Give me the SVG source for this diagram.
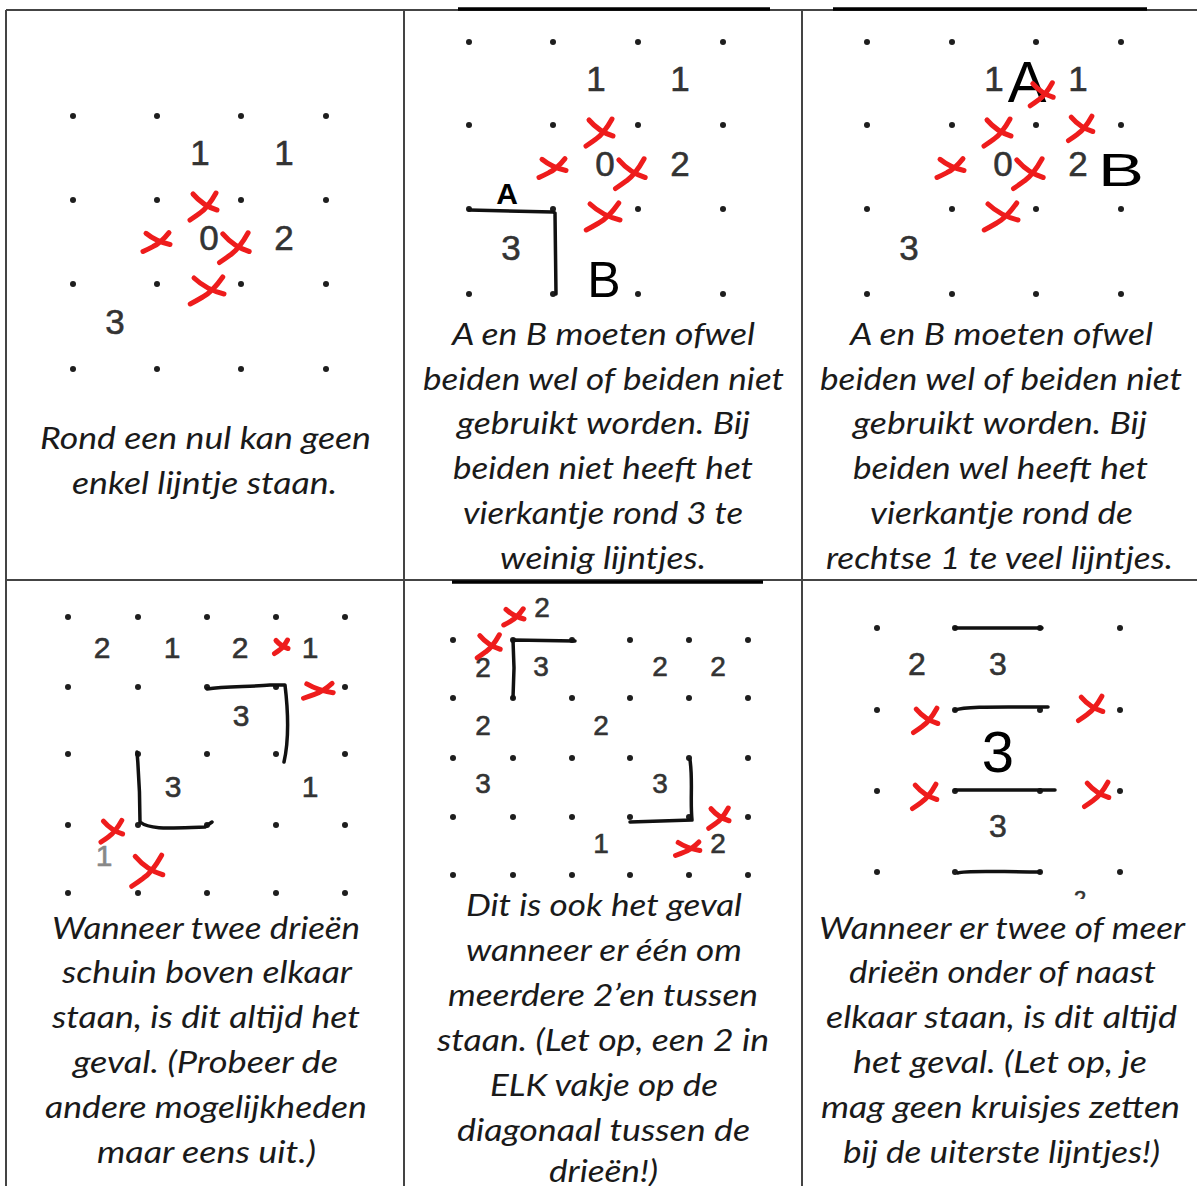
<svg xmlns="http://www.w3.org/2000/svg" xmlns:xlink="http://www.w3.org/1999/xlink" width="1197" height="1186" viewBox="0 0 1197 1186">
<style>
.cap{font-family:Lato,"Open Sans","Noto Sans",sans-serif;font-style:italic;font-size:31px;fill:#1a1a1a}
.num{font-family:"Liberation Sans",Arial,sans-serif;fill:#333;stroke:#333;stroke-width:0.6;text-anchor:middle}
.n34{font-size:35px}.n30{font-size:30px}.n28{font-size:28px}.n32{font-size:32px}
.hand{font-family:"Liberation Sans",Arial,sans-serif;fill:#000;text-anchor:middle}
.dot{fill:#1e1e1e}
.ink{fill:none;stroke:#111;stroke-width:3.5;stroke-linecap:round;stroke-linejoin:round}
.rule{stroke:#444;stroke-width:2;fill:none}
.blk{stroke:#000;stroke-width:3.5}
</style>
<defs>
<path id="x" d="M-12,-11 C-6,-4 2,2 12,5 M11,-12 C6,-3 1,4 -5,8 C-9,11 -12,13 -15,15" fill="none" stroke="#ee1c1c" stroke-width="5" stroke-linecap="round" vector-effect="non-scaling-stroke"/>
<circle id="d" r="3" class="dot"/>
<clipPath id="cl6"><rect x="1065" y="886" width="30" height="13"/></clipPath>
</defs>

<g id="table">
<line class="rule" x1="6" y1="10" x2="1197" y2="10"/>
<line class="blk" x1="458" y1="9" x2="770" y2="9"/>
<line class="blk" x1="833" y1="9" x2="1147" y2="9"/>
<line class="rule" x1="6" y1="10" x2="6" y2="1186"/>
<line class="rule" x1="404" y1="10" x2="404" y2="1186"/>
<line class="rule" x1="802" y1="10" x2="802" y2="1186"/>
<line class="rule" x1="6" y1="580" x2="1197" y2="580"/>
<line class="blk" x1="452" y1="582" x2="763" y2="582"/>
</g>

<g id="cell1">
<g>
<use href="#d" x="73" y="116"/><use href="#d" x="157" y="116"/><use href="#d" x="241" y="116"/><use href="#d" x="326" y="116"/>
<use href="#d" x="73" y="200"/><use href="#d" x="157" y="200"/><use href="#d" x="241" y="200"/><use href="#d" x="326" y="200"/>
<use href="#d" x="73" y="284"/><use href="#d" x="157" y="284"/><use href="#d" x="241" y="284"/><use href="#d" x="326" y="284"/>
<use href="#d" x="73" y="369"/><use href="#d" x="157" y="369"/><use href="#d" x="241" y="369"/><use href="#d" x="326" y="369"/>
</g>
<text class="num n34" x="200" y="165">1</text><text class="num n34" x="284" y="165">1</text>
<text class="num n34" x="209" y="250">0</text><text class="num n34" x="284" y="250">2</text>
<text class="num n34" x="115" y="334">3</text>
<use href="#x" transform="translate(205,205) scale(1)"/>
<use href="#x" transform="translate(158,241) scale(1,0.7)"/>
<use href="#x" transform="translate(236,246) scale(1.1)"/>
<use href="#x" transform="translate(209,289) scale(1.25,1)"/>
<text class="cap" x="40" y="449" textLength="331" lengthAdjust="spacingAndGlyphs">Rond een nul kan geen</text>
<text class="cap" x="72" y="494" textLength="265" lengthAdjust="spacingAndGlyphs">enkel lijntje staan.</text>
</g>

<g id="cell2">
<g>
<use href="#d" x="469" y="42"/><use href="#d" x="553" y="42"/><use href="#d" x="638" y="42"/><use href="#d" x="723" y="42"/>
<use href="#d" x="469" y="125"/><use href="#d" x="553" y="125"/><use href="#d" x="638" y="125"/><use href="#d" x="723" y="125"/>
<use href="#d" x="469" y="209"/><use href="#d" x="553" y="209"/><use href="#d" x="638" y="209"/><use href="#d" x="723" y="209"/>
<use href="#d" x="469" y="294"/><use href="#d" x="553" y="294"/><use href="#d" x="638" y="294"/><use href="#d" x="723" y="294"/>
</g>
<text class="num n34" x="596" y="91">1</text><text class="num n34" x="680" y="91">1</text>
<text class="num n34" x="605" y="176">0</text><text class="num n34" x="680" y="176">2</text>
<text class="num n34" x="511" y="260">3</text>
<use href="#x" transform="translate(601,131) scale(1)"/>
<use href="#x" transform="translate(554,167) scale(1,0.7)"/>
<use href="#x" transform="translate(632,172) scale(1.1)"/>
<use href="#x" transform="translate(605,215) scale(1.25,1)"/>
<path class="ink" d="M469,210 L553,212 L555,213 L556,294"/>
<text class="hand" x="507" y="204" font-size="30" font-weight="bold">A</text>
<text class="hand" x="604" y="297" font-size="50">B</text>
<text class="cap" x="452" y="345" textLength="303" lengthAdjust="spacingAndGlyphs">A en B moeten ofwel</text>
<text class="cap" x="423" y="390" textLength="361" lengthAdjust="spacingAndGlyphs">beiden wel of beiden niet</text>
<text class="cap" x="457" y="434" textLength="293" lengthAdjust="spacingAndGlyphs">gebruikt worden. Bij</text>
<text class="cap" x="453" y="479" textLength="300" lengthAdjust="spacingAndGlyphs">beiden niet heeft het</text>
<text class="cap" x="463" y="524" textLength="280" lengthAdjust="spacingAndGlyphs">vierkantje rond 3 te</text>
<text class="cap" x="500" y="569" textLength="206" lengthAdjust="spacingAndGlyphs">weinig lijntjes.</text>
</g>

<g id="cell3">
<g>
<use href="#d" x="867" y="42"/><use href="#d" x="952" y="42"/><use href="#d" x="1036" y="42"/><use href="#d" x="1121" y="42"/>
<use href="#d" x="867" y="125"/><use href="#d" x="952" y="125"/><use href="#d" x="1036" y="125"/><use href="#d" x="1121" y="125"/>
<use href="#d" x="867" y="209"/><use href="#d" x="952" y="209"/><use href="#d" x="1036" y="209"/><use href="#d" x="1121" y="209"/>
<use href="#d" x="867" y="294"/><use href="#d" x="952" y="294"/><use href="#d" x="1036" y="294"/><use href="#d" x="1121" y="294"/>
</g>
<text class="num n34" x="994" y="91">1</text><text class="num n34" x="1078" y="91">1</text>
<text class="num n34" x="1003" y="176">0</text><text class="num n34" x="1078" y="176">2</text>
<text class="num n34" x="909" y="260">3</text>
<text class="hand" x="1027" y="102" font-size="58">A</text>
<text class="hand" x="1121" y="186" font-size="46" textLength="46" lengthAdjust="spacingAndGlyphs">B</text>
<use href="#x" transform="translate(999,131) scale(1)"/>
<use href="#x" transform="translate(952,167) scale(1,0.7)"/>
<use href="#x" transform="translate(1030,172) scale(1.1)"/>
<use href="#x" transform="translate(1003,215) scale(1.25,1)"/>
<use href="#x" transform="translate(1043,93) scale(0.85)"/>
<use href="#x" transform="translate(1082,127) scale(0.9)"/>
<text class="cap" x="850" y="345" textLength="303" lengthAdjust="spacingAndGlyphs">A en B moeten ofwel</text>
<text class="cap" x="820" y="390" textLength="362" lengthAdjust="spacingAndGlyphs">beiden wel of beiden niet</text>
<text class="cap" x="853" y="434" textLength="294" lengthAdjust="spacingAndGlyphs">gebruikt worden. Bij</text>
<text class="cap" x="853" y="479" textLength="295" lengthAdjust="spacingAndGlyphs">beiden wel heeft het</text>
<text class="cap" x="870" y="524" textLength="263" lengthAdjust="spacingAndGlyphs">vierkantje rond de</text>
<text class="cap" x="826" y="569" textLength="347" lengthAdjust="spacingAndGlyphs">rechtse 1 te veel lijntjes.</text>
</g>

<g id="cell4">
<g>
<use href="#d" x="68" y="617"/><use href="#d" x="138" y="617"/><use href="#d" x="207" y="617"/><use href="#d" x="276" y="617"/><use href="#d" x="345" y="617"/>
<use href="#d" x="68" y="687"/><use href="#d" x="138" y="687"/><use href="#d" x="207" y="687"/><use href="#d" x="276" y="687"/><use href="#d" x="345" y="687"/>
<use href="#d" x="68" y="754"/><use href="#d" x="138" y="754"/><use href="#d" x="207" y="754"/><use href="#d" x="276" y="754"/><use href="#d" x="345" y="754"/>
<use href="#d" x="68" y="825"/><use href="#d" x="138" y="825"/><use href="#d" x="207" y="825"/><use href="#d" x="276" y="825"/><use href="#d" x="345" y="825"/>
<use href="#d" x="68" y="893"/><use href="#d" x="138" y="893"/><use href="#d" x="207" y="893"/><use href="#d" x="276" y="893"/><use href="#d" x="345" y="893"/>
</g>
<text class="num n30" x="102" y="658">2</text><text class="num n30" x="172" y="658">1</text>
<text class="num n30" x="240" y="658">2</text><text class="num n30" x="310" y="658">1</text>
<text class="num n30" x="241" y="726">3</text>
<text class="num n30" x="173" y="797">3</text><text class="num n30" x="310" y="797">1</text>
<text class="num n30" x="104" y="866" style="fill:#888;stroke:#888">1</text>
<path class="ink" d="M207,689 C225,686 250,687 270,685 L285,685 C288,710 289,740 284,762"/>
<path class="ink" d="M137,752 C139,775 140,800 140,822 C150,830 170,828 205,827 L212,822"/>
<use href="#x" transform="translate(282,646) scale(0.5)"/>
<use href="#x" transform="translate(320,690) scale(1.1,0.55)"/>
<use href="#x" transform="translate(113,830) scale(0.8)"/>
<use href="#x" transform="translate(149,869) scale(1.15)"/>
<text class="cap" x="52" y="939" textLength="308" lengthAdjust="spacingAndGlyphs">Wanneer twee drieën</text>
<text class="cap" x="62" y="983" textLength="290" lengthAdjust="spacingAndGlyphs">schuin boven elkaar</text>
<text class="cap" x="52" y="1028" textLength="308" lengthAdjust="spacingAndGlyphs">staan, is dit altijd het</text>
<text class="cap" x="73" y="1073" textLength="265" lengthAdjust="spacingAndGlyphs">geval. (Probeer de</text>
<text class="cap" x="45" y="1118" textLength="322" lengthAdjust="spacingAndGlyphs">andere mogelijkheden</text>
<text class="cap" x="97" y="1163" textLength="219" lengthAdjust="spacingAndGlyphs">maar eens uit.)</text>
</g>

<g id="cell5">
<g>
<use href="#d" x="453" y="640"/><use href="#d" x="513" y="640"/><use href="#d" x="572" y="640"/><use href="#d" x="630" y="640"/><use href="#d" x="689" y="640"/><use href="#d" x="748" y="640"/>
<use href="#d" x="453" y="698"/><use href="#d" x="513" y="698"/><use href="#d" x="572" y="698"/><use href="#d" x="630" y="698"/><use href="#d" x="689" y="698"/><use href="#d" x="748" y="698"/>
<use href="#d" x="453" y="758"/><use href="#d" x="513" y="758"/><use href="#d" x="572" y="758"/><use href="#d" x="630" y="758"/><use href="#d" x="689" y="758"/><use href="#d" x="748" y="758"/>
<use href="#d" x="453" y="817"/><use href="#d" x="513" y="817"/><use href="#d" x="572" y="817"/><use href="#d" x="630" y="817"/><use href="#d" x="689" y="817"/><use href="#d" x="748" y="817"/>
<use href="#d" x="453" y="875"/><use href="#d" x="513" y="875"/><use href="#d" x="572" y="875"/><use href="#d" x="630" y="875"/><use href="#d" x="689" y="875"/><use href="#d" x="748" y="875"/>
</g>
<text class="num n28" x="542" y="617">2</text>
<text class="num n28" x="483" y="677">2</text><text class="num n28" x="541" y="676">3</text>
<text class="num n28" x="660" y="676">2</text><text class="num n28" x="718" y="676">2</text>
<text class="num n28" x="483" y="735">2</text><text class="num n28" x="601" y="735">2</text>
<text class="num n28" x="483" y="793">3</text><text class="num n28" x="660" y="793">3</text>
<text class="num n28" x="601" y="853">1</text><text class="num n28" x="718" y="853">2</text>
<path class="ink" d="M575,641 L513,640 L514,668 L513,698"/>
<path class="ink" d="M690,760 C693,780 690,800 692,820 L630,822"/>
<use href="#x" transform="translate(515,616) scale(0.75,0.6)"/>
<use href="#x" transform="translate(490,645) scale(0.85)"/>
<use href="#x" transform="translate(720,817) scale(0.75)"/>
<use href="#x" transform="translate(689,848) scale(0.9,0.5)"/>
<text class="cap" x="466" y="916" textLength="276" lengthAdjust="spacingAndGlyphs">Dit is ook het geval</text>
<text class="cap" x="466" y="961" textLength="276" lengthAdjust="spacingAndGlyphs">wanneer er één om</text>
<text class="cap" x="448" y="1006" textLength="310" lengthAdjust="spacingAndGlyphs">meerdere 2’en tussen</text>
<text class="cap" x="437" y="1051" textLength="332" lengthAdjust="spacingAndGlyphs">staan. (Let op, een 2 in</text>
<text class="cap" x="490" y="1096" textLength="228" lengthAdjust="spacingAndGlyphs">ELK vakje op de</text>
<text class="cap" x="457" y="1141" textLength="293" lengthAdjust="spacingAndGlyphs">diagonaal tussen de</text>
<text class="cap" x="549" y="1182" textLength="109" lengthAdjust="spacingAndGlyphs">drieën!)</text>
</g>

<g id="cell6">
<g>
<use href="#d" x="877" y="628"/><use href="#d" x="955" y="628"/><use href="#d" x="1040" y="628"/><use href="#d" x="1120" y="628"/>
<use href="#d" x="877" y="710"/><use href="#d" x="955" y="710"/><use href="#d" x="1040" y="710"/><use href="#d" x="1120" y="710"/>
<use href="#d" x="877" y="791"/><use href="#d" x="955" y="791"/><use href="#d" x="1040" y="791"/><use href="#d" x="1120" y="791"/>
<use href="#d" x="877" y="872"/><use href="#d" x="955" y="872"/><use href="#d" x="1040" y="872"/><use href="#d" x="1120" y="872"/>
</g>
<text class="num n32" x="917" y="675">2</text><text class="num n32" x="998" y="675">3</text>
<text class="num n32" x="998" y="837">3</text>
<text class="num" font-size="22" x="1080" y="906" clip-path="url(#cl6)">2</text>
<text class="hand" x="998" y="772" font-size="58">3</text>
<path class="ink" d="M955,628 L1042,628"/>
<path class="ink" d="M955,710 C965,706 1000,707 1048,707"/>
<path class="ink" d="M955,790 L1055,790"/>
<path class="ink" d="M958,873 C965,870 1000,872 1040,872"/>
<use href="#x" transform="translate(927,719) scale(0.9)"/>
<use href="#x" transform="translate(1092,707) scale(0.9)"/>
<use href="#x" transform="translate(926,795) scale(0.9)"/>
<use href="#x" transform="translate(1098,793) scale(0.9)"/>
<text class="cap" x="819" y="939" textLength="366" lengthAdjust="spacingAndGlyphs">Wanneer er twee of meer</text>
<text class="cap" x="849" y="983" textLength="307" lengthAdjust="spacingAndGlyphs">drieën onder of naast</text>
<text class="cap" x="826" y="1028" textLength="351" lengthAdjust="spacingAndGlyphs">elkaar staan, is dit altijd</text>
<text class="cap" x="853" y="1073" textLength="294" lengthAdjust="spacingAndGlyphs">het geval. (Let op, je</text>
<text class="cap" x="821" y="1118" textLength="359" lengthAdjust="spacingAndGlyphs">mag geen kruisjes zetten</text>
<text class="cap" x="843" y="1163" textLength="317" lengthAdjust="spacingAndGlyphs">bij de uiterste lijntjes!)</text>
</g>
</svg>
